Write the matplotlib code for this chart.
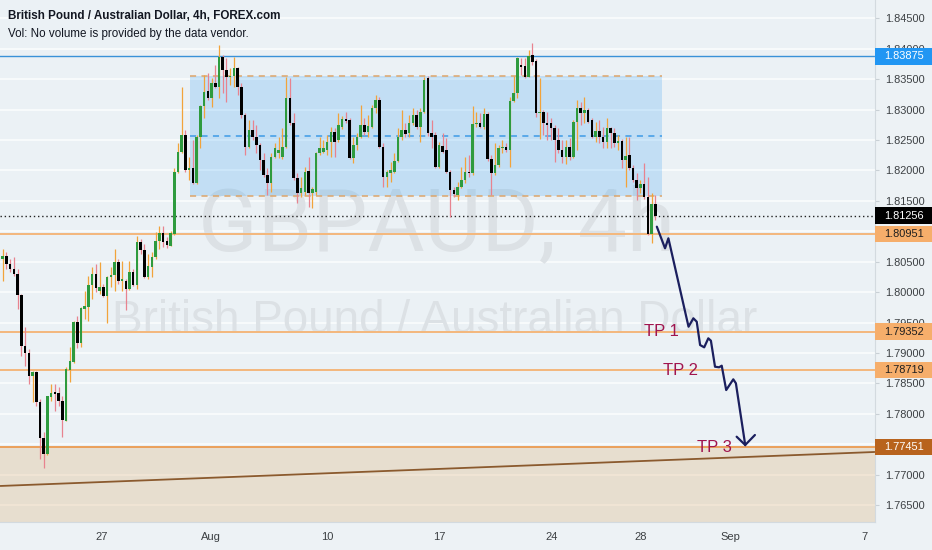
import matplotlib
matplotlib.use("Agg")
import matplotlib.pyplot as plt
import matplotlib.transforms as mtransforms
from matplotlib.patches import Rectangle

# ---------------- data (GBPAUD 4h candles) ----------------
opens = [
    1.80544, 1.80587, 1.80461, 1.80379, 1.80297, 1.79952, 1.79119, 1.78998, 1.78615, 1.78681,
    1.78187, 1.77595, 1.77338, 1.78280, 1.78352, 1.78341, 1.78215, 1.77886, 1.78724, 1.78845,
    1.79502, 1.79163, 1.79722, 1.79749, 1.80116, 1.80297, 1.80020, 1.80078, 1.79941, 1.80242,
    1.80280, 1.80500, 1.80187, 1.80187, 1.80050, 1.80324, 1.80116, 1.80818, 1.80697, 1.80242,
    1.80407, 1.80571, 1.80845, 1.80966, 1.80834, 1.80763, 1.80955,
    1.81978, 1.82307, 1.82581, 1.82006, 1.82033, 1.81787, 1.82554, 1.83058, 1.83310, 1.83184,
    1.83442, 1.83376, 1.83869, 1.83650, 1.83529, 1.83551, 1.83677, 1.83376, 1.82910, 1.82390,
    1.82663, 1.82554, 1.82417, 1.82170, 1.81924, 1.81787, 1.82225, 1.82280, 1.82214, 1.82390,
    1.83184, 1.82773, 1.81869, 1.81633, 1.81650, 1.81989, 1.81622, 1.81650, 1.82280, 1.82307,
    1.82334, 1.82472, 1.82636,
    1.82499, 1.82707, 1.82839, 1.82828, 1.82198, 1.82417, 1.82554, 1.82746, 1.82636, 1.82718,
    1.83020, 1.83157, 1.82390, 1.81896, 1.81962, 1.81978, 1.82159, 1.82554, 1.82663, 1.82609,
    1.82773, 1.82910, 1.82707, 1.82965, 1.83513, 1.82609, 1.82581, 1.82060, 1.82401, 1.82335,
    1.81978, 1.81677, 1.81595, 1.81732, 1.81841, 1.81978, 1.81950, 1.82762, 1.82773, 1.82707,
    1.82926, 1.82181, 1.81950, 1.82088, 1.82362, 1.82390,
    1.82335, 1.83146, 1.83266, 1.83732, 1.83716, 1.83540, 1.83896, 1.83803, 1.82937, 1.82965,
    1.82784, 1.82773, 1.82690, 1.82499, 1.82335, 1.82214, 1.82379, 1.82225, 1.82801, 1.83020,
    1.82948, 1.82992, 1.82828, 1.82554, 1.82652, 1.82554, 1.82472, 1.82690, 1.82620, 1.82444,
    1.82483, 1.82170, 1.82252, 1.82033, 1.81841, 1.81704, 1.81770, 1.81567, 1.80949, 1.81447,
]
highs = [
    1.80708, 1.80653, 1.80544, 1.80571, 1.80379, 1.79968, 1.79420, 1.79064, 1.78708, 1.78708,
    1.78242, 1.77694, 1.78297, 1.78489, 1.78489, 1.78434, 1.78297, 1.78763, 1.79091, 1.79530,
    1.79612, 1.79749, 1.80020, 1.80259, 1.80407, 1.80461, 1.80489, 1.80133, 1.80270, 1.80407,
    1.80708, 1.80544, 1.80516, 1.80215, 1.80516, 1.80379, 1.80927, 1.80872, 1.80790, 1.80626,
    1.80653, 1.80982, 1.81092, 1.81092, 1.80900, 1.81010, 1.82033,
    1.82444, 1.83376, 1.82663, 1.82225, 1.82499, 1.82581, 1.83074, 1.83568, 1.83595, 1.83513,
    1.83732, 1.84061, 1.83896, 1.83842, 1.83677, 1.83869, 1.83705, 1.83431, 1.82937, 1.82828,
    1.82828, 1.82746, 1.82444, 1.82280, 1.82033, 1.82280, 1.82444, 1.82554, 1.82690, 1.83540,
    1.83513, 1.82937, 1.81950, 1.81896, 1.82060, 1.82225, 1.81732, 1.82307, 1.82554, 1.82499,
    1.82581, 1.82718, 1.82690,
    1.82937, 1.82894, 1.82965, 1.82855, 1.82554, 1.82609, 1.83074, 1.82855, 1.82910, 1.83074,
    1.83239, 1.83211, 1.82444, 1.82006, 1.82143, 1.82280, 1.82690, 1.82992, 1.82773, 1.82910,
    1.83020, 1.82992, 1.83020, 1.83540, 1.83551, 1.82828, 1.82636, 1.82472, 1.82609, 1.82526,
    1.82006, 1.81732, 1.81814, 1.82060, 1.82225, 1.82252, 1.83058, 1.82965, 1.82948, 1.83020,
    1.82965, 1.82252, 1.82444, 1.82417, 1.82499, 1.82444,
    1.83211, 1.83551, 1.83869, 1.83842, 1.83842, 1.83979, 1.84099, 1.83825, 1.83513, 1.82992,
    1.82965, 1.82855, 1.82746, 1.82690, 1.82499, 1.82499, 1.82526, 1.82828, 1.83157, 1.83129,
    1.83211, 1.83020, 1.82855, 1.82801, 1.82828, 1.82707, 1.82855, 1.82718, 1.82690, 1.82581,
    1.82510, 1.82554, 1.82554, 1.82088, 1.81950, 1.81841, 1.82126, 1.81885, 1.81633, 1.81595,
]
lows = [
    1.80187, 1.80379, 1.80324, 1.80270, 1.79722, 1.78954, 1.78790, 1.78489, 1.78187, 1.78132,
    1.77256, 1.77102, 1.77330, 1.78215, 1.78050, 1.78132, 1.77612, 1.77880, 1.78516, 1.78840,
    1.79075, 1.79091, 1.79557, 1.79530, 1.79886, 1.79996, 1.79968, 1.79914, 1.79491, 1.80078,
    1.80020, 1.80133, 1.80020, 1.79705, 1.80039, 1.80105, 1.80050, 1.80626, 1.80226, 1.80215,
    1.80242, 1.80544, 1.80708, 1.80735, 1.80719, 1.80760, 1.80940,
    1.81950, 1.82280, 1.81978, 1.81841, 1.81776, 1.81776, 1.82362, 1.82855, 1.83157, 1.83047,
    1.83348, 1.83184, 1.83266, 1.83129, 1.83403, 1.83376, 1.83239, 1.82855, 1.82252, 1.82362,
    1.82499, 1.82280, 1.82006, 1.81896, 1.81595, 1.81650, 1.82198, 1.82198, 1.82181, 1.82362,
    1.82746, 1.81841, 1.81458, 1.81567, 1.81595, 1.81403, 1.81376, 1.81595, 1.82252, 1.82280,
    1.82252, 1.82225, 1.82225,
    1.82472, 1.82674, 1.82784, 1.82181, 1.82126, 1.82335, 1.82526, 1.82581, 1.82554, 1.82690,
    1.82937, 1.82362, 1.81732, 1.81732, 1.81814, 1.81950, 1.82143, 1.82499, 1.82554, 1.82554,
    1.82746, 1.82674, 1.82472, 1.82937, 1.82565, 1.82362, 1.82033, 1.82033, 1.82280, 1.81950,
    1.81239, 1.81567, 1.81513, 1.81704, 1.81787, 1.81896, 1.81924, 1.82718, 1.82690, 1.82674,
    1.82159, 1.81595, 1.81924, 1.82060, 1.82280, 1.82307,
    1.82060, 1.83129, 1.83184, 1.83568, 1.83513, 1.83529, 1.83732, 1.82883, 1.82510, 1.82581,
    1.82499, 1.82499, 1.82143, 1.82280, 1.82115, 1.82104, 1.82170, 1.82198, 1.82335, 1.82746,
    1.82773, 1.82773, 1.82526, 1.82472, 1.82444, 1.82362, 1.82362, 1.82362, 1.82390, 1.82335,
    1.82033, 1.81732, 1.82006, 1.81814, 1.81513, 1.81622, 1.81524, 1.80937, 1.80811, 1.81184,
]
closes = [
    1.80587, 1.80461, 1.80379, 1.80297, 1.79952, 1.79119, 1.78998, 1.78626, 1.78681, 1.78187,
    1.77595, 1.77338, 1.78288, 1.78341, 1.78324, 1.78215, 1.77902, 1.78735, 1.78861, 1.79502,
    1.79163, 1.79733, 1.79765, 1.80116, 1.80297, 1.80061, 1.80078, 1.79941, 1.80242, 1.80280,
    1.80500, 1.80187, 1.80215, 1.80050, 1.80324, 1.80116, 1.80818, 1.80697, 1.80242, 1.80434,
    1.80571, 1.80845, 1.80966, 1.80818, 1.80774, 1.80966, 1.81978,
    1.82307, 1.82581, 1.82006, 1.82033, 1.81787, 1.82554, 1.83058, 1.83294, 1.83184, 1.83442,
    1.83376, 1.83869, 1.83650, 1.83529, 1.83551, 1.83677, 1.83376, 1.82910, 1.82390, 1.82663,
    1.82554, 1.82417, 1.82170, 1.81924, 1.81787, 1.82225, 1.82362, 1.82335, 1.82390, 1.83184,
    1.82773, 1.81869, 1.81622, 1.81704, 1.81978, 1.81622, 1.81693, 1.82280, 1.82362, 1.82362,
    1.82472, 1.82636, 1.82472,
    1.82746, 1.82839, 1.82817, 1.82198, 1.82417, 1.82554, 1.82746, 1.82636, 1.82729, 1.83020,
    1.83157, 1.82390, 1.81896, 1.81978, 1.82006, 1.82159, 1.82554, 1.82663, 1.82598, 1.82773,
    1.82910, 1.82707, 1.82965, 1.83485, 1.82609, 1.82554, 1.82060, 1.82417, 1.82307, 1.81978,
    1.81677, 1.81611, 1.81732, 1.81841, 1.81978, 1.81950, 1.82762, 1.82773, 1.82707, 1.82926,
    1.82181, 1.81950, 1.82088, 1.82362, 1.82390, 1.82335,
    1.83146, 1.83266, 1.83842, 1.83694, 1.83540, 1.83880, 1.83787, 1.82937, 1.82965, 1.82773,
    1.82746, 1.82690, 1.82499, 1.82335, 1.82214, 1.82379, 1.82225, 1.82801, 1.83020, 1.82948,
    1.82992, 1.82801, 1.82554, 1.82652, 1.82543, 1.82472, 1.82690, 1.82609, 1.82444, 1.82483,
    1.82170, 1.82236, 1.82033, 1.81841, 1.81704, 1.81770, 1.81567, 1.80949, 1.81447, 1.81256,
]

# time axis (bar index positions of the day labels)
time_tick_pos = [26.6, 55.9, 87.0, 117.0, 147.2, 171.0, 195.0, 231.2]
time_tick_labels = ["27", "Aug", "10", "17", "24", "28", "Sep", "7"]

price_ticks = [1.765, 1.770, 1.775, 1.780, 1.785, 1.790, 1.795, 1.800, 1.805,
               1.810, 1.815, 1.820, 1.825, 1.830, 1.835, 1.840, 1.845]
# scale labels fully covered by the coloured price boxes are not shown
hidden_tick_labels = [1.810, 1.775]

last_price = 1.81256
resistance_level = 1.83875
entry_level = 1.80951
tp_levels = [1.79352, 1.78719, 1.77451]
tp_names = ["TP 1", "TP 2", "TP 3"]
tp_label_bars = [176.7, 181.8, 190.75]

# consolidation box (bar range, price range, mid-line)
box_bars = [50.2, 176.8]
box_prices = [1.81584, 1.83551]
box_mid = 1.82565

# rising trend line (bar, price end points)
trend_bars = [-0.72, 233.9]
trend_prices = [1.76813, 1.77372]

# hand-drawn projected path (bar, price)
path_bars = [175.4, 177.6, 178.5, 183.9, 185.2, 186.1, 187.0, 188.1, 189.2, 189.9,
             191.0, 192.1, 192.8, 194.0, 195.9, 196.6, 199.1]
path_prices = [1.81075, 1.80720, 1.80884, 1.79431, 1.79569, 1.79513, 1.79130, 1.79092,
               1.79240, 1.79201, 1.78773, 1.78764, 1.78790, 1.78390, 1.78566, 1.78501, 1.77487]
arrow_head_bars = [196.8, 199.1, 201.7]
arrow_head_prices = [1.77623, 1.77487, 1.77651]

# ---------------- styling ----------------
BG = "#EBF1F5"
FIG_BG = "#EDF2F5"
GREEN = "#2E9B3E"
BLACK = "#000000"
UP_WICK = "#F2A33A"
DOWN_WICK = "#E8838F"
TEXT = "#131722"
AXIS_TEXT = "#3C4043"

W, H = 932, 550
fig = plt.figure(figsize=(W / 100, H / 100), dpi=100, facecolor=FIG_BG)
plot_right, plot_bottom = 875, 522
ax = fig.add_axes([0, (H - plot_bottom) / H, plot_right / W, plot_bottom / H])
ax.set_facecolor(BG)

ax.set_xlim(-0.724, 233.9)
ax.set_ylim(1.76221, 1.84801)

# grid
for p in price_ticks:
    ax.axhline(p, color="#F9FBFC", lw=1.3, zorder=1.0)

# watermark
ax.text(0.4989, 1 - 250 / 522, "GBPAUD, 4h", transform=ax.transAxes, ha="center",
        va="baseline", fontsize=63, color="#DCE1E5", zorder=1.2,
        family=["Roboto", "Liberation Sans", "DejaVu Sans"])
ax.text(0.4966, 1 - 333 / 522, "British Pound / Australian Dollar", transform=ax.transAxes,
        ha="center", va="baseline", fontsize=33, color="#DCE1E5", zorder=1.2,
        family=["Liberation Sans", "DejaVu Sans"])

# beige zone below the last target
ax.axhspan(1.70, tp_levels[2], color="#E0B47A", alpha=0.3, lw=0, zorder=1.4)

# consolidation rectangle
ax.add_patch(Rectangle((box_bars[0], box_prices[0]), box_bars[1] - box_bars[0],
                       box_prices[1] - box_prices[0], facecolor="#2196F3", alpha=0.2,
                       lw=0, zorder=1.5))
for p in box_prices:
    ax.hlines(p, box_bars[0], box_bars[1], color="#DDA56A", lw=1.1, ls=(0, (4, 3.5)), zorder=2.2)
ax.hlines(box_mid, box_bars[0], box_bars[1], color="#3E9BE6", lw=1.1, ls=(0, (4, 3.5)), zorder=2.2)

# horizontal levels
ax.axhline(resistance_level, color="#3A92D8", lw=1.0, zorder=2)
ax.axhline(entry_level, color="#F4B77C", lw=1.4, zorder=2)
ax.axhline(tp_levels[0], color="#F4B77C", lw=1.4, zorder=2)
ax.axhline(tp_levels[1], color="#F4B77C", lw=1.4, zorder=2)
ax.axhline(tp_levels[2], color="#EBA05A", lw=1.4, zorder=2)
ax.axhline(last_price, color="#222222", lw=1.0, ls=(0, (1, 2)), zorder=2.3)

# trend line
ax.plot(trend_bars, trend_prices, color="#8B5A2E", lw=1.3, zorder=2.1, solid_capstyle="butt")

# candles
n = len(opens)
xs = list(range(n))
wick_colors, body_colors, bottoms, heights = [], [], [], []
for o, c in zip(opens, closes):
    up = c >= o
    wick_colors.append(UP_WICK if up else DOWN_WICK)
    body_colors.append(GREEN if up else BLACK)
    lo_b, hi_b = min(o, c), max(o, c)
    h = max(hi_b - lo_b, 0.00018)
    bottoms.append((lo_b + hi_b) / 2 - h / 2)
    heights.append(h)
ax.vlines(xs, lows, highs, colors=wick_colors, lw=0.9, zorder=3)
ax.bar(xs, heights, bottom=bottoms, width=0.68, color=body_colors, lw=0, zorder=4)

# hand-drawn arrow path
ax.plot(path_bars, path_prices, color="#1B1F5E", lw=1.6, zorder=5,
        solid_joinstyle="round", solid_capstyle="round")
ax.plot(arrow_head_bars, arrow_head_prices, color="#1B1F5E", lw=1.6, zorder=5,
        solid_joinstyle="miter", solid_capstyle="round")

# TP labels
for name, bx, lvl in zip(tp_names, tp_label_bars, tp_levels):
    ax.text(bx, lvl, name, ha="center", va="center", fontsize=12, color="#A0144E",
            zorder=6, family=["Liberation Sans", "DejaVu Sans"])

# axes / ticks
for s in ["top", "left"]:
    ax.spines[s].set_visible(False)
for s in ["right", "bottom"]:
    ax.spines[s].set_color("#D3DADF")
    ax.spines[s].set_linewidth(0.8)

ax.yaxis.tick_right()
ax.set_yticks(price_ticks)
ax.set_yticklabels(["" if p in hidden_tick_labels else f"{p:.5f}" for p in price_ticks])
ax.tick_params(axis="y", length=3, width=0.8, color="#C9D0D5", pad=4.5,
               labelsize=7.9, labelcolor=AXIS_TEXT)
ax.set_xticks(time_tick_pos)
ax.set_xticklabels(time_tick_labels)
ax.tick_params(axis="x", length=0, pad=7, labelsize=8, labelcolor=AXIS_TEXT)
for lab in ax.get_xticklabels() + ax.get_yticklabels():
    lab.set_family(["Liberation Sans", "DejaVu Sans"])

# price label boxes on the scale
trans = mtransforms.blended_transform_factory(ax.transAxes, ax.transData)
half_h = 8.2 / 6084
box_specs = [
    (resistance_level, "#2196F3", "white"),
    (last_price, "#000000", "white"),
    (entry_level, "#F6AE6B", "#1E1E1E"),
    (tp_levels[0], "#F6AE6B", "#1E1E1E"),
    (tp_levels[1], "#F6AE6B", "#1E1E1E"),
    (tp_levels[2], "#B8631D", "white"),
]
for lvl, fc, tc in box_specs:
    ax.add_patch(Rectangle((1.0, lvl - half_h), W / plot_right - 1.0, 2 * half_h,
                           transform=trans, facecolor=fc, lw=0, clip_on=False, zorder=10))
    ax.text(884 / plot_right, lvl, f"{lvl:.5f}", transform=trans, ha="left", va="center",
            fontsize=7.9, color=tc, zorder=11, clip_on=False,
            family=["Liberation Sans", "DejaVu Sans"])

# header
fig.text(8 / W, 1 - 16 / H, "British Pound / Australian Dollar, 4h, FOREX.com",
         ha="left", va="center", fontsize=8.4, fontweight="bold", color=TEXT,
         family=["Liberation Sans", "DejaVu Sans"])
fig.text(8 / W, 1 - 34 / H, "Vol: No volume is provided by the data vendor.",
         ha="left", va="center", fontsize=8.4, color=TEXT,
         family=["Liberation Sans", "DejaVu Sans"])

fig.savefig("out.png", dpi=100, facecolor=FIG_BG)
